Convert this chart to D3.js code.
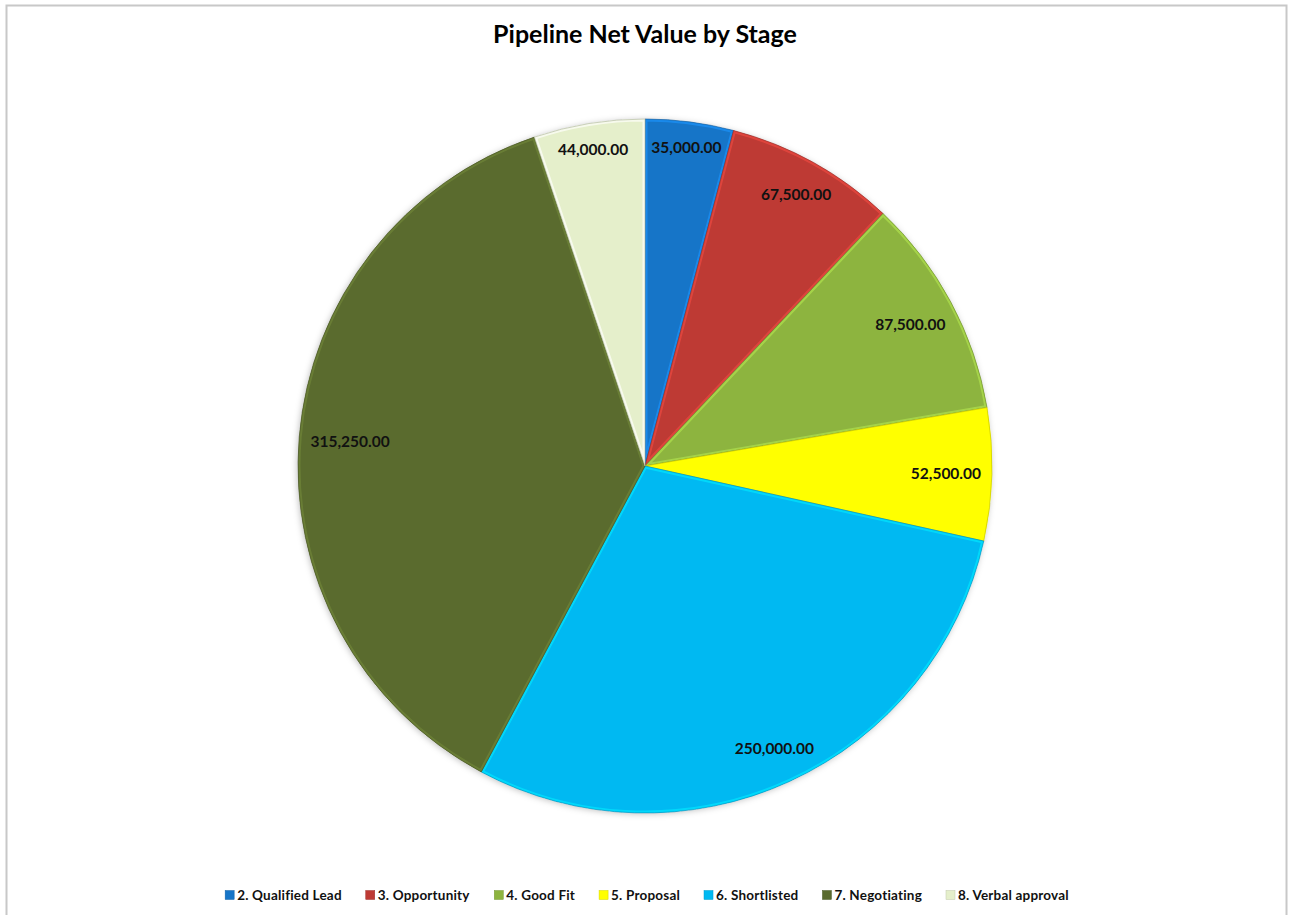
<!DOCTYPE html>
<html lang="en">
<head>
    <meta charset="UTF-8">
    <title>Pipeline Net Value by Stage</title>
    <script src="https://d3js.org/d3.v7.min.js"></script>
    <style>
        body {
            margin: 0;
            padding: 0;
            background-color: #ffffff;
        }
        .title {
            font-family: Lato, "Open Sans", sans-serif;
            font-weight: bold;
            font-size: 25px;
            fill: #000;
        }
        .label {
            font-family: Lato, "Open Sans", sans-serif;
            font-weight: bold;
            font-size: 15.5px;
            fill: #111;
        }
        .legend_text {
            font-family: Lato, "Open Sans", sans-serif;
            font-weight: bold;
            font-size: 13.5px;
            letter-spacing: 0.2px;
            fill: #111;
        }
    </style>
</head>
<body>
    <svg width="1291" height="915"></svg>

    <script>
        const stages = ["2. Qualified Lead", "3. Opportunity", "4. Good Fit", "5. Proposal",
            "6. Shortlisted", "7. Negotiating", "8. Verbal approval"];
        const netValues = [35000, 67500, 87500, 52500, 250000, 315250, 44000];
        const stageColors = ["#1675c8", "#be3a34", "#8db43f", "#ffff00", "#00b9f2", "#5a6b2e", "#e5efcb"];

        const W = 1291, H = 915;
        const cx = 645, cy = 466, radius = 347;

        let svg = d3.select("svg");

        // chart border
        svg.append("rect")
            .attr("x", 6.5).attr("y", 5.5)
            .attr("width", 1280).attr("height", 920)
            .attr("fill", "#fff")
            .attr("stroke", "#c8c8c8")
            .attr("stroke-width", 2);

        svg.append("text")
            .attr("class", "title")
            .attr("x", cx).attr("y", 43)
            .attr("text-anchor", "middle")
            .text("Pipeline Net Value by Stage");

        let data = stages.map((s, i) => ({ stage: s, value: netValues[i], color: stageColors[i] }));

        const pie = d3.pie().sort(null).value(d => d.value);
        const arc = d3.arc().innerRadius(0).outerRadius(radius);
        const arcs = pie(data);

        let defs = svg.append("defs");
        defs.append("filter").attr("id", "shadow")
            .attr("x", "-10%").attr("y", "-10%").attr("width", "120%").attr("height", "120%")
            .append("feDropShadow")
            .attr("dx", -1).attr("dy", 1).attr("stdDeviation", 3)
            .attr("flood-color", "#000").attr("flood-opacity", 0.25);

        let g = svg.append("g").attr("transform", `translate(${cx},${cy})`);

        // shadow underlay
        g.append("circle").attr("r", radius).attr("fill", "#fff").attr("filter", "url(#shadow)");

        arcs.forEach((d, i) => {
            defs.append("clipPath").attr("id", "clip" + i)
                .append("path").attr("d", arc(d));
        });

        let slices = g.selectAll("g.slice").data(arcs).enter().append("g").attr("class", "slice");

        slices.append("path")
            .attr("d", arc)
            .attr("fill", d => d.data.color);

        // bevel highlight inside each slice
        slices.append("path")
            .attr("d", arc)
            .attr("clip-path", (d, i) => `url(#clip${i})`)
            .attr("fill", "none")
            .attr("stroke", d => d3.color(d.data.color).brighter(0.6))
            .attr("stroke-width", 5)
            .attr("stroke-opacity", 0.7)
            .attr("stroke-linejoin", "round");

        slices.append("path")
            .attr("d", arc)
            .attr("fill", "none")
            .attr("stroke", d => d3.color(d.data.color).darker(0.8))
            .attr("stroke-width", 1)
            .attr("stroke-opacity", 0.6)
            .attr("stroke-linejoin", "round");

        // inside-end labels
        const fmt = d3.format(",.2f");
        slices.append("text")
            .attr("class", "label")
            .attr("text-anchor", "middle")
            .attr("dominant-baseline", "central")
            .text(d => fmt(d.data.value))
            .each(function (d) {
                const w = this.getComputedTextLength() / 2 + 4;
                const h = 11;
                const a = (d.startAngle + d.endAngle) / 2;
                const sx = Math.sin(a), sy = -Math.cos(a);
                // move the box centre inward until its outer corner fits inside the arc
                let r = radius;
                for (; r > 0; r -= 1) {
                    const x = r * sx, y = r * sy;
                    const fx = Math.abs(x) + w, fy = Math.abs(y) + h;
                    if (Math.sqrt(fx * fx + fy * fy) <= radius - 6) break;
                }
                d3.select(this).attr("x", r * sx).attr("y", r * sy);
            });

        // legend
        let legend = svg.append("g").attr("transform", `translate(0,${895})`);
        let items = legend.selectAll("g").data(data).enter().append("g");
        items.append("rect")
            .attr("x", 0).attr("y", -4.5)
            .attr("width", 9).attr("height", 9)
            .attr("fill", d => d.color)
            .attr("stroke", d => d3.color(d.color).darker(0.5))
            .attr("stroke-width", 0.5);
        items.append("text")
            .attr("class", "legend_text")
            .attr("x", 12)
            .attr("dominant-baseline", "central")
            .text(d => d.stage);

        let widths = [];
        items.each(function () { widths.push(this.getBBox().width); });
        const gap = 24;
        const total = d3.sum(widths) + gap * (widths.length - 1);
        let xPos = cx - total / 2 + 2;
        items.attr("transform", (d, i) => {
            const t = `translate(${xPos},0)`;
            xPos += widths[i] + gap;
            return t;
        });
    </script>
</body>
</html>
